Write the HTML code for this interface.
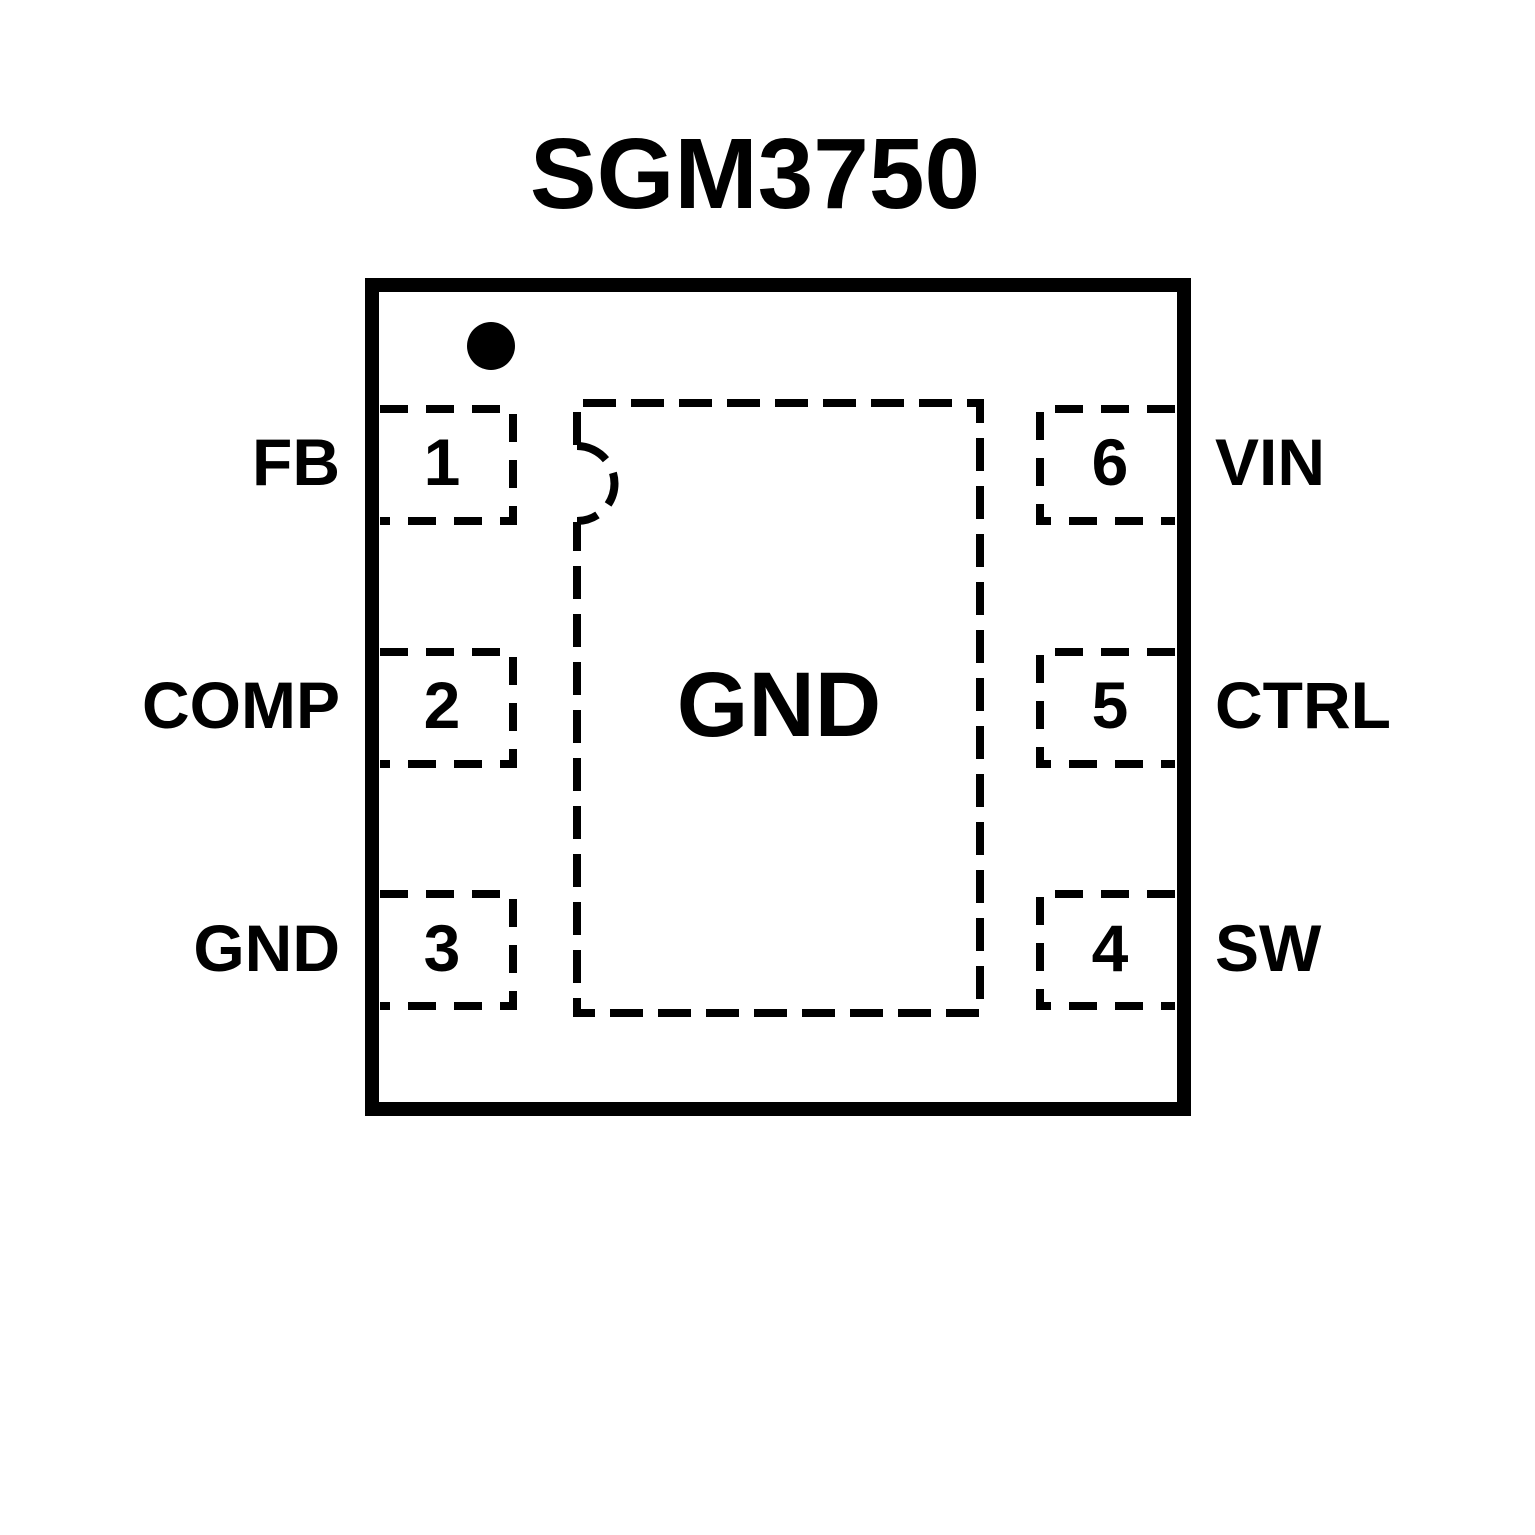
<!DOCTYPE html>
<html><head><style>html,body{margin:0;padding:0;background:#fff;width:1535px;height:1535px;overflow:hidden}</style></head>
<body>
<svg width="1535" height="1535" viewBox="0 0 1535 1535" xmlns="http://www.w3.org/2000/svg">
<rect width="1535" height="1535" fill="#fff"/>
<text x="755" y="208" text-anchor="middle" font-family="Liberation Sans, sans-serif" font-weight="bold" font-size="100" letter-spacing="0">SGM3750</text>
<rect x="372" y="285" width="812" height="824" fill="none" stroke="#000" stroke-width="14"/>
<circle cx="491" cy="346" r="24" fill="#000"/>
<g fill="none" stroke="#000" stroke-width="8" stroke-dasharray="28 18">
<path d="M380 409H513V521H380"/>
<path d="M380 652H513V764H380"/>
<path d="M380 894H513V1006H380"/>
<path d="M1175 409H1040V521H1175"/>
<path d="M1175 652H1040V764H1175"/>
<path d="M1175 894H1040V1006H1175"/>
</g>
<g fill="none" stroke="#000" stroke-width="8" stroke-dasharray="33 15">
<path d="M577 445V403H980V1013H577V522"/>
<path d="M577 446A37 37 0 0 1 577 521"/>
</g>
<g font-family="Liberation Sans, sans-serif" font-weight="bold" font-size="66">
<text x="340" y="485" text-anchor="end">FB</text>
<text x="340" y="728" text-anchor="end">COMP</text>
<text x="340" y="971" text-anchor="end">GND</text>
<text x="1215" y="485">VIN</text>
<text x="1215" y="728">CTRL</text>
<text x="1215" y="971">SW</text>
<text x="442" y="485" text-anchor="middle">1</text>
<text x="442" y="728" text-anchor="middle">2</text>
<text x="442" y="971" text-anchor="middle">3</text>
<text x="1110" y="485" text-anchor="middle">6</text>
<text x="1110" y="728" text-anchor="middle">5</text>
<text x="1110" y="971" text-anchor="middle">4</text>
</g>
<text x="779" y="736" text-anchor="middle" font-family="Liberation Sans, sans-serif" font-weight="bold" font-size="92">GND</text>
</svg>
</body></html>
